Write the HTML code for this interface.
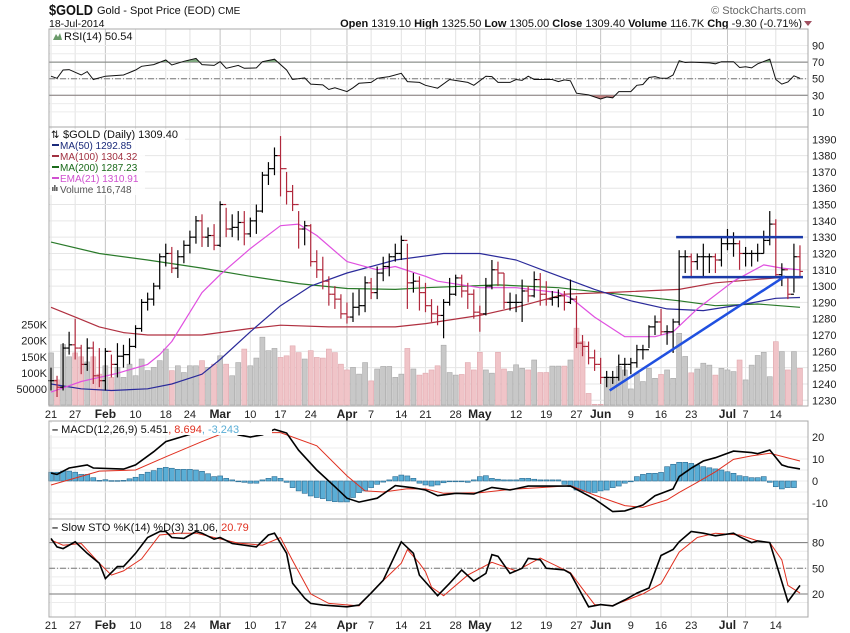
<!DOCTYPE html>
<html><head><meta charset="utf-8"><style>
body{margin:0;background:#fff;width:850px;height:633px;overflow:hidden;font-family:"Liberation Sans",sans-serif}
svg{display:block}
text{font-family:"Liberation Sans",sans-serif}
</style></head><body>
<svg id="c" width="850" height="633" viewBox="0 0 850 633">
<text x="49" y="15" font-size="15" font-weight="bold" fill="#111" textLength="44" lengthAdjust="spacingAndGlyphs">$GOLD</text>
<text x="97" y="14" font-size="11" fill="#111">Gold - Spot Price (EOD) <tspan font-size="10">CME</tspan></text>
<text x="49" y="27" font-size="10.5" fill="#111">18-Jul-2014</text>
<text x="806" y="14" font-size="11" fill="#666" text-anchor="end">© StockCharts.com</text>
<text x="802" y="27" font-size="11" fill="#111" text-anchor="end"><tspan font-weight="bold">Open</tspan> 1319.10 <tspan font-weight="bold">High</tspan> 1325.50 <tspan font-weight="bold">Low</tspan> 1305.00 <tspan font-weight="bold">Close</tspan> 1309.40 <tspan font-weight="bold">Volume</tspan> 116.7K <tspan font-weight="bold">Chg</tspan> -9.30 (-0.71%)</text>
<polygon points="804,21 812,21 808,26" fill="#a05060"/>
</svg>
<script>
// ---------- data ----------
const dateLabels=["21","27","Feb","10","18","24","Mar","10","17","24","Apr","7","14","21","28","May","12","19","27","Jun","9","16","23","Jul","7","14"];
const dateLabelIdx=[0,4,9,14,19,23,28,33,38,43,49,53,58,62,67,71,77,82,87,91,96,101,106,112,115,120];
const closes=[1242,1238,1262,1264,1262,1252,1262,1245,1242,1260,1252,1257,1258,1263,1274,1290,1292,1300,1318,1320,1311,1318,1325,1330,1340,1330,1331,1325,1350,1335,1336,1339,1332,1340,1346,1368,1372,1380,1372,1358,1350,1335,1337,1315,1310,1303,1295,1292,1283,1281,1287,1288,1302,1296,1308,1312,1318,1320,1328,1302,1303,1296,1288,1283,1282,1290,1295,1305,1297,1295,1284,1283,1300,1310,1308,1290,1290,1290,1297,1294,1304,1295,1292,1293,1294,1290,1292,1265,1263,1256,1252,1244,1244,1244,1252,1252,1253,1261,1261,1275,1278,1272,1272,1278,1318,1318,1315,1318,1318,1318,1316,1326,1326,1326,1320,1320,1320,1320,1328,1338,1307,1310,1295,1318,1309];
const highs=[1250,1245,1265,1272,1280,1264,1268,1266,1262,1262,1258,1265,1264,1268,1276,1292,1296,1302,1320,1326,1324,1322,1328,1334,1343,1344,1336,1338,1352,1348,1344,1346,1346,1342,1350,1370,1376,1385,1392,1370,1362,1346,1340,1338,1322,1318,1306,1300,1295,1290,1296,1298,1306,1305,1312,1318,1320,1326,1331,1326,1308,1306,1302,1292,1288,1292,1305,1307,1307,1302,1298,1288,1305,1316,1315,1308,1296,1295,1304,1300,1309,1308,1303,1297,1298,1297,1304,1294,1270,1266,1261,1256,1248,1248,1258,1256,1256,1264,1264,1276,1282,1286,1276,1280,1322,1322,1320,1320,1326,1320,1320,1330,1335,1333,1328,1324,1322,1326,1334,1346,1341,1314,1305,1326,1325];
const lows=[1236,1232,1236,1258,1255,1246,1248,1240,1238,1236,1244,1244,1250,1252,1262,1272,1285,1288,1298,1312,1308,1305,1314,1320,1326,1324,1324,1322,1324,1330,1330,1328,1325,1330,1332,1345,1362,1368,1355,1350,1346,1323,1325,1312,1305,1298,1288,1286,1280,1277,1278,1282,1284,1292,1292,1303,1306,1315,1316,1286,1296,1285,1284,1278,1276,1268,1288,1294,1293,1286,1280,1272,1282,1298,1300,1286,1285,1284,1278,1290,1293,1288,1288,1288,1287,1285,1289,1262,1257,1252,1248,1240,1238,1240,1242,1245,1246,1250,1255,1262,1270,1270,1264,1259,1276,1308,1306,1310,1306,1308,1308,1312,1322,1318,1310,1312,1312,1315,1320,1325,1306,1300,1292,1296,1305];
const volumesK=[162,78,188,150,162,150,134,150,96,122,86,117,86,127,91,143,107,117,138,174,107,122,101,122,122,138,117,127,153,127,91,132,174,122,146,211,169,176,148,153,184,163,143,169,148,146,174,163,127,109,117,96,132,75,112,120,120,86,96,176,112,93,99,109,122,186,101,93,95,132,109,164,109,99,164,112,104,125,114,109,140,101,101,121,121,121,140,239,197,36,2,2,87,85,120,109,50,99,73,114,83,95,109,83,223,151,100,112,130,124,93,114,109,104,140,78,124,154,164,88,197,166,109,166,114];
const ma50Idx=[0,5,10,16,20,25,28,33,38,43,49,57,65,71,77,82,90,96,102,108,115,120,124];
const ma50Val=[1240,1237,1236,1237,1240,1246,1255,1272,1288,1300,1308,1316,1320,1320,1316,1309,1298,1291,1286,1285,1289,1292.5,1293];
const ma100Idx=[0,4,8,12,16,25,33,38,46,57,62,71,77,85,92,104,110,120,124];
const ma100Val=[1287,1281,1275,1271.5,1270,1270,1274,1276,1275,1275,1277,1282,1287,1295,1296,1298,1302,1305,1305];
const ma200Idx=[0,8,16,25,33,41,49,57,62,74,84,94,104,110,117,124];
const ma200Val=[1327,1320,1316,1311,1306,1301.5,1298.5,1298,1299,1300.7,1299,1295,1291,1288,1289,1287];
const emaIdx=[0,5,11,16,18,20,23,25,28,33,38,41,44,49,54,57,62,64,71,77,84,86,90,95,100,103,107,113,118,121,124];
const emaVal=[1235,1241.5,1246.5,1252,1258,1266,1284,1296,1307,1323,1337,1338,1331,1315,1310,1312,1306,1303,1299,1299,1296,1293,1281,1269,1269,1272,1286,1303,1313,1311,1310];
const rsiIdx=[0,1,2,3,5,6,7,9,12,14,15,17,19,20,22,24,25,27,28,29,31,32,34,35,37,39,40,42,43,45,46,47,49,50,51,53,54,56,58,59,61,62,64,66,69,70,72,73,74,76,77,78,79,80,83,84,85,86,87,89,91,92,93,94,96,97,98,99,100,101,102,103,104,105,106,109,110,111,113,114,115,116,117,119,120,121,122,123,124];
const rsiVal=[53,50.5,60.5,61,54.5,58.5,49,53,54.5,60.5,65,67,72.5,66.5,71,74.5,67,66,70.5,62.5,66,62.5,63,70.5,73.5,60.5,49,51,43.5,42.5,37,39,34.5,39,44.5,45.5,50.5,52.5,56.5,46.5,45.5,42,38.5,49,45.5,42,53,52.5,45.5,45.5,49,48,53,49,49,46.5,48.5,47.5,32.5,30.5,25.5,28,27,34.5,34.5,42,43,51.5,52.5,50.5,50.5,54.5,71.7,69.5,70,69,68,70.5,70.5,63.5,64.5,63,68,73.5,49,43.5,46,53.5,50.5];
const macdIdx=[0,1,3,6,7,12,14,17,19,23,26,30,31,33,35,37,39,41,44,47,49,51,54,57,60,62,64,67,70,73,76,79,86,90,93,95,98,100,103,104,106,108,110,113,116,117,119,121,122,124];
const macdVal=[3.6,3,5.9,7.3,5.9,5.4,7.3,13.3,17.9,21.2,23,22.5,21,20,21,23.5,21.8,14,5,-2.6,-7.8,-9.6,-7.8,-2.1,-3.1,-4.1,-6.7,-5.6,-5.9,-2.9,-4.1,-2.3,-2.3,-8.2,-13.9,-13.6,-10.9,-6.7,-3.6,2,5.8,9.1,10.6,13.6,12.9,12.4,14.1,7.3,6.4,5.5];
const signalIdx=[0,8,14,19,25,28,33,38,44,49,52,55,59,62,65,71,76,81,86,90,95,98,102,104,107,110,113,116,119,124];
const signalVal=[-1.8,4.5,5,11,17.9,21.2,22,22,16,2.3,-4.5,-5,-3.5,-3.6,-5.6,-5.3,-3.8,-3,-2.1,-6.4,-11.2,-12,-8.6,-5.2,-0.6,4.2,9.8,11.4,12.6,9.1];
const histVal=[4,4,4.5,4.5,4,3,3,1.5,0.3,0.6,0.2,0.2,0.3,1,1.7,3,4,4.7,5.8,6.2,5.8,5.3,5.3,5.3,5,4.4,3.3,2,2.3,1.2,0.5,0,-0.6,-1,-1,0.5,1.2,2,1.2,-0.6,-3,-4.5,-5.6,-6.8,-7.5,-8,-9,-9.4,-9.5,-9.5,-7.5,-5.3,-4.5,-3,-1.5,-0.5,0.5,2,2.7,2.3,1.2,-1,-1.8,-2.3,-1.8,-0.8,0,0,0,-0.6,0.5,2,2.4,1.2,0.8,0.5,0.5,0.5,1.2,1.2,0.8,0.5,0.5,0.5,0.5,-1.5,-2.6,-4.1,-4.8,-5.2,-5.2,-4.5,-4.1,-3,-2.3,-1,-0.3,2,3,3.5,3.5,3.9,6.5,7.6,8.5,8.5,8,7.3,6.5,6,5.5,5,4.2,3.5,2.4,2,1.5,1.5,2,-0.6,-2.6,-3.6,-3,-3];
const stoKIdx=[0,1,2,4,6,8,9,11,12,14,16,18,19,20,22,24,25,27,28,30,34,36,37,39,40,42,43,45,49,51,53,55,58,60,61,62,64,66,68,70,72,73,74,76,78,79,81,82,85,86,89,91,93,95,97,99,100,101,103,104,106,108,110,113,114,116,117,119,122,124];
const stoKVal=[85,75,73,81,67.5,56,38,52,52,67.5,86,93,93,86,85,93,91,84,86,79,75,89,91,67.5,32.5,15,9,7,5,7,21,36,81,67.5,42,34,18,32.5,48,35,44,66,64,44,50,61.7,60,50,48,44,5,7.5,6,13,21,27,46,65,72,81,93,91,88,91,87,80,82,80,11,30];
const stoDIdx=[0,2,5,8,10,12,15,18,21,24,27,31,35,38,40,43,46,51,54,58,59,61,62,63,65,69,73,77,81,86,88,90,93,98,101,104,107,110,114,117,119,121,122,124];
const stoDVal=[83,77,79,56,42,47,61,89,91,91,86,79.5,77,86,59,20,9,6,29,56,72,56,46,28,18,42,57,47,62,45,26,7.5,6.5,20,32,69,86,91,89,82,80,60,30,21];
const priceTicks=[1230,1240,1250,1260,1270,1280,1290,1300,1310,1320,1330,1340,1350,1360,1370,1380,1390];
const volTicks=[50,100,150,200,250];
const volTickLabels=["50000","100K","150K","200K","250K"];
const rsiTicks=[10,30,50,70,90];
const macdTicks=[-10,0,10,20];
const stoTicks=[20,50,80];
const resistIdx=[103.5,124.5], resistPrice=1330;
const supportIdx=[104.5,124.5], supportPrice=1305.5;
const trendIdx=[92.5,121.5], trendPrice=[1236,1306];

// ---------- scales ----------
const L=49,R=808;
const X=i=>51+i*6.04;
const PY=p=>139.3+(1390-p)*1.631;
const VY=v=>405-v*0.3215;
const RY=v=>78.7-(v-50)*0.83;
const MY=v=>481-v*2.2;
const SY=v=>568.3-(v-50)*0.855;

const svg=document.getElementById('c');
const NS='http://www.w3.org/2000/svg';
function mk(tag,attrs,parent){const e=document.createElementNS(NS,tag);for(const k in attrs)e.setAttribute(k,attrs[k]);(parent||svg).appendChild(e);return e;}
function pts(idx,val,fy){return idx.map((i,k)=>X(i).toFixed(1)+','+fy(val[k]).toFixed(1)).join(' ');}

const panels=[[29,127,'rsi-panel'],[127,406,'price-panel'],[421,519,'macd-panel'],[519,617,'sto-panel']];
panels.forEach(p=>{
  const r=mk('rect',{x:L,y:p[0],width:R-L,height:p[1]-p[0],fill:'#fff',stroke:'none'});
  
  
  dateLabelIdx.forEach((i,k)=>{
    const isM=isNaN(+dateLabels[k]);
    const g=mk('line',{x1:X(i),x2:X(i),y1:p[0],y2:p[1],stroke:isM?'#c4c4c4':'#e2e2e2','stroke-width':1});
    
    
  });
});
priceTicks.forEach(t=>{
  const g=mk('line',{x1:L,x2:R,y1:PY(t),y2:PY(t),stroke:'#e6e6e6'});
  
  
  const tx=mk('text',{x:812,y:PY(t)+4,'font-size':11,fill:'#222'});tx.textContent=t;
  
  
});
[10,20,30,40,50,60,70,80,90].forEach(t=>{const g=mk('line',{x1:L,x2:R,y1:RY(t),y2:RY(t),stroke:'#ececec'});
  
  });
[-15,-10,-5,0,5,10,15,20].forEach(t=>{const g=mk('line',{x1:L,x2:R,y1:MY(t),y2:MY(t),stroke:'#ececec'});
  
  });
[10,20,30,40,50,60,70,80,90].forEach(t=>{const g=mk('line',{x1:L,x2:R,y1:SY(t),y2:SY(t),stroke:'#ececec'});
  
  });

// RSI
rsiTicks.forEach(t=>{const tx=mk('text',{x:812,y:RY(t)+4,'font-size':11,fill:'#222'});tx.textContent=t;
  
  });
[[70,'none'],[30,'none'],[50,'6,2,1,2']].forEach(a=>{const l=mk('line',{x1:L,x2:R,y1:RY(a[0]),y2:RY(a[0]),stroke:'#777','stroke-dasharray':a[1]});
  
  });
const defs=mk('defs',{});
const c1=mk('clipPath',{id:'ob'},defs);mk('rect',{x:L,y:29,width:R-L,height:RY(70)-29},c1);
const c2=mk('clipPath',{id:'os'},defs);mk('rect',{x:L,y:RY(30),width:R-L,height:127-RY(30)},c2);
const rp=pts(rsiIdx,rsiVal,RY);
const f1=mk('polygon',{points:X(0)+','+RY(70)+' '+rp+' '+X(124)+','+RY(70),fill:'#7fa87f','clip-path':'url(#ob)'});


const f2=mk('polygon',{points:X(0)+','+RY(30)+' '+rp+' '+X(124)+','+RY(30),fill:'#c08080','clip-path':'url(#os)'});


const rl=mk('polyline',{points:rp,fill:'none',stroke:'#111','stroke-width':1});


const rt=mk('text',{x:64,y:40,'font-size':11,fill:'#111'});rt.textContent='RSI(14) 50.54';


const ri=mk('polygon',{points:'53,40 56,34 58,37 60,33 62,40',fill:'#6a9a6a'});



// Volume
volumesK.forEach((v,i)=>{
  const up=i===0||closes[i]>=closes[i-1];
  const b=mk('rect',{x:X(i)-2.5,y:VY(v),width:5,height:405-VY(v),fill:up?'#c8c8c8':'#f0c4c8',stroke:up?'#a8a8a8':'#e0a8ae','stroke-width':0.6});
  
  
});
volTicks.forEach((t,k)=>{const tx=mk('text',{x:47,y:VY(t)+4,'font-size':11,fill:'#222','text-anchor':'end'});tx.textContent=volTickLabels[k];
  
  });

// MAs
[[ma200Idx,ma200Val,'#2a7a2a','ma200-line'],[ma100Idx,ma100Val,'#b03040','ma100-line'],[ma50Idx,ma50Val,'#2a2a9a','ma50-line'],[emaIdx,emaVal,'#e050e0','ema21-line']].forEach(s=>{
  const l=mk('polyline',{points:pts(s[0],s[1],PY),fill:'none',stroke:s[2],'stroke-width':1.2,'stroke-linejoin':'round'});
  
  
});

// OHLC bars
closes.forEach((c,i)=>{
  const o=i===0?c:closes[i-1];
  const col=(i>0&&c<closes[i-1])?'#b0283c':'#000';
  const g=mk('g',{stroke:col,'stroke-width':1.2});
  
  
  mk('line',{x1:X(i),x2:X(i),y1:PY(highs[i]),y2:PY(lows[i])},g);
  mk('line',{x1:X(i)-3,x2:X(i),y1:PY(o),y2:PY(o)},g);
  mk('line',{x1:X(i),x2:X(i)+3,y1:PY(c),y2:PY(c)},g);
});

// annotations
const a1=mk('line',{x1:X(resistIdx[0]),x2:X(resistIdx[1]),y1:PY(resistPrice),y2:PY(resistPrice),stroke:'#1a3aa8','stroke-width':2.5});


const a2=mk('line',{x1:X(supportIdx[0]),x2:X(supportIdx[1]),y1:PY(supportPrice),y2:PY(supportPrice),stroke:'#1a3aa8','stroke-width':2.5});


const a3=mk('line',{x1:X(trendIdx[0]),x2:X(trendIdx[1]),y1:PY(trendPrice[0]),y2:PY(trendPrice[1]),stroke:'#2050e0','stroke-width':2.5});



// price legend
const lg=[['$GOLD (Daily) 1309.40','#111',null],['MA(50) 1292.85','#1a2a7a','#1a2a7a'],['MA(100) 1304.32','#a03040','#a03040'],['MA(200) 1287.23','#1a6a1a','#1a6a1a'],['EMA(21) 1310.91','#d050d0','#d050d0'],['Volume 116,748','#555',null]];
lg.forEach((e,k)=>{
  const y=138+k*11;
  const bg=mk('rect',{x:50,y:y-9,width:k==0?135:95,height:11,fill:'#fff','fill-opacity':0.85});
  
  
  if(e[2]){const s=mk('line',{x1:52,x2:59,y1:y-4,y2:y-4,stroke:e[2],'stroke-width':2});
    
    }
  const t=mk('text',{x:k==0?63:60,y:y,'font-size':k==0?11:10,fill:e[1]});t.textContent=e[0];
  
  
});
const bi=mk('text',{x:51,y:138,'font-size':10,fill:'#111'});bi.textContent='⇅';


[0,2,4].forEach(k=>{const r=mk('rect',{x:52+k,y:191-(k==2?6:4),width:1.6,height:k==2?6:4,fill:'#666'});
  
  });

// MACD
histVal.forEach((v,i)=>{
  const b=mk('rect',{x:X(i)-2.5,y:Math.min(MY(v),MY(0)),width:5,height:Math.max(0.8,Math.abs(MY(v)-MY(0))),fill:'#5aaed6',stroke:'#2a6a90','stroke-width':0.6});
  
  
});
const sl=mk('polyline',{points:pts(signalIdx,signalVal,MY),fill:'none',stroke:'#e03020','stroke-width':1});


const ml=mk('polyline',{points:pts(macdIdx,macdVal,MY),fill:'none',stroke:'#000','stroke-width':1.6});


macdTicks.forEach(t=>{const tx=mk('text',{x:812,y:MY(t)+4,'font-size':11,fill:'#222'});tx.textContent=t;
  
  });
const mlb=mk('rect',{x:50,y:423,width:222,height:12,fill:'#fff'});


const mlt=mk('text',{x:52,y:433,'font-size':11,fill:'#111'});
mlt.innerHTML='<tspan font-weight="bold">–</tspan> MACD(12,26,9) 5.451<tspan fill="#e03020">, 8.694</tspan><tspan fill="#5aaed6">, -3.243</tspan>';



// STO
[[80,'none'],[20,'none'],[50,'6,2,1,2']].forEach(a=>{const l=mk('line',{x1:L,x2:R,y1:SY(a[0]),y2:SY(a[0]),stroke:'#777','stroke-dasharray':a[1]});
  
  });
const dl=mk('polyline',{points:pts(stoDIdx,stoDVal,SY),fill:'none',stroke:'#e03020','stroke-width':1});


const kl=mk('polyline',{points:pts(stoKIdx,stoKVal,SY),fill:'none',stroke:'#000','stroke-width':1.6});


stoTicks.forEach(t=>{const tx=mk('text',{x:812,y:SY(t)+4,'font-size':11,fill:'#222'});tx.textContent=t;
  
  });
const slt=mk('text',{x:52,y:531,'font-size':11,fill:'#111'});
slt.innerHTML='<tspan font-weight="bold">–</tspan> Slow STO %K(14) %D(3) 31.06, <tspan fill="#e03020">20.79</tspan>';



panels.forEach(p=>{const r=mk('rect',{x:L,y:p[0],width:R-L,height:p[1]-p[0],fill:'none',stroke:'#a8a8a8'});
  
  });

[414,625].forEach(y=>{
  dateLabelIdx.forEach((i,k)=>{
    const isM=isNaN(+dateLabels[k]);
    const t=mk('text',{x:X(i),y:y+4,'font-size':isM?12:11,'font-weight':isM?'bold':'normal',fill:'#222','text-anchor':'middle'});
    t.textContent=dateLabels[k];
    
    
  });
});
</script>
</body></html>
